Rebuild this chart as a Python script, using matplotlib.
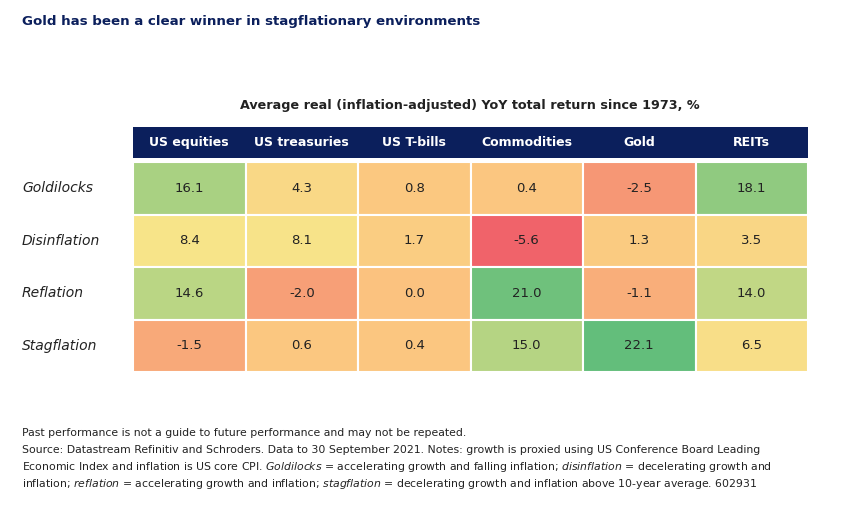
import matplotlib.pyplot as plt
import numpy as np
from matplotlib.colors import LinearSegmentedColormap, TwoSlopeNorm
from matplotlib.patches import Rectangle

columns = ["US equities", "US treasuries", "US T-bills", "Commodities", "Gold", "REITs"]
regimes = ["Goldilocks", "Disinflation", "Reflation", "Stagflation"]
returns = np.array([
    [16.1, 4.3, 0.8, 0.4, -2.5, 18.1],
    [8.4, 8.1, 1.7, -5.6, 1.3, 3.5],
    [14.6, -2.0, 0.0, 21.0, -1.1, 14.0],
    [-1.5, 0.6, 0.4, 15.0, 22.1, 6.5],
])

navy = "#0b1f5c"
cmap = LinearSegmentedColormap.from_list("rag", ["#f0636a", "#fbc47f", "#f7e68a", "#63be7b"])
norm = TwoSlopeNorm(vmin=returns.min(), vcenter=3.0, vmax=returns.max())

W, H = 857, 507
fig = plt.figure(figsize=(W / 100, H / 100), dpi=100)

fig.text(22 / W, 1 - 22 / H, "Gold has been a clear winner in stagflationary environments",
         fontsize=9.6, fontweight="bold", color=navy, va="center")
fig.text(470 / W, 1 - 105 / H, "Average real (inflation-adjusted) YoY total return since 1973, %",
         fontsize=9.2, fontweight="bold", color="#222222", ha="center", va="center")

# table axes: pixel x 133..808, y 127..372
top, bot = 127, 372
ax = fig.add_axes([133 / W, 1 - bot / H, (808 - 133) / W, (bot - top) / H])
unit = (372 - 162) / 4  # px per row
head = (158 - 127) / unit
gap = (162 - 158) / unit
nrows, ncols = returns.shape
for i in range(nrows):
    for j in range(ncols):
        y = nrows - 1 - i
        ax.add_patch(Rectangle((j, y), 1, 1, facecolor=cmap(norm(returns[i, j])),
                               edgecolor="white", linewidth=1.5))
        ax.text(j + 0.5, y + 0.5, f"{returns[i, j]:.1f}", ha="center", va="center",
                fontsize=9.5, color="#222222")
ax.add_patch(Rectangle((0, 4 + gap), ncols, head, facecolor=navy, edgecolor="none"))
for j, c in enumerate(columns):
    ax.text(j + 0.5, 4 + gap + head / 2, c, ha="center", va="center", color="white",
            fontsize=9, fontweight="bold")
ax.set_xlim(0, ncols)
ax.set_ylim(0, 4 + gap + head)
ax.axis("off")

for i, r in enumerate(regimes):
    yc = 162 + unit * (i + 0.5)
    fig.text(22 / W, 1 - yc / H, r, fontsize=10, style="italic", color="#222222", va="center")

foot = [
    "Past performance is not a guide to future performance and may not be repeated.",
    "Source: Datastream Refinitiv and Schroders. Data to 30 September 2021. Notes: growth is proxied using US Conference Board Leading",
    "Economic Index and inflation is US core CPI. $\\it{Goldilocks}$ = accelerating growth and falling inflation; $\\it{disinflation}$ = decelerating growth and",
    "inflation; $\\it{reflation}$ = accelerating growth and inflation; $\\it{stagflation}$ = decelerating growth and inflation above 10-year average. 602931",
]
for k, line in enumerate(foot):
    fig.text(22 / W, 1 - (433 + 17 * k) / H, line, fontsize=7.8, color="#222222", va="center")

fig.savefig("out.png", dpi=100, facecolor="white")
